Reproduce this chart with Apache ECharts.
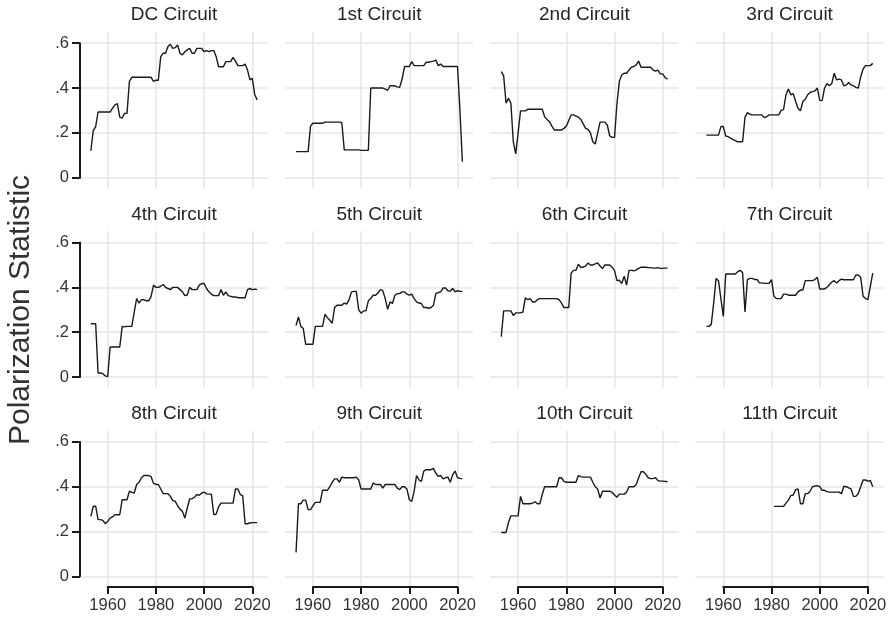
<!DOCTYPE html>
<html><head><meta charset="utf-8">
<script src="https://cdn.jsdelivr.net/npm/echarts@6/dist/echarts.min.js"></script>
<style>html,body{margin:0;padding:0;background:#fff}#c{width:891px;height:620px}</style>
</head><body><div id="c"></div>
<script>
// ---------- data ----------
const firstYear = 1953, lastYear = 2022;
const circuitNames = ['DC Circuit','1st Circuit','2nd Circuit','3rd Circuit','4th Circuit','5th Circuit',
  '6th Circuit','7th Circuit','8th Circuit','9th Circuit','10th Circuit','11th Circuit'];
const yTicks = [0, 0.2, 0.4, 0.6];
const yTickLabels = ['0', '.2', '.4', '.6'];
const xTicks = [1960, 1980, 2000, 2020];
const yAxisTitle = 'Polarization Statistic';

// values by year, 1953..2022
const dc = [.12,.21,.228,.293,.293,.293,.293,.293,.293,.31,
  .325,.33,.27,.266,.287,.287,.43,.448,.448,.448,
  .448,.448,.448,.448,.448,.448,.43,.435,.435,.54,
  .555,.555,.585,.595,.577,.58,.592,.555,.548,.562,
  .57,.577,.555,.555,.577,.577,.577,.562,.567,.562,
  .567,.567,.54,.495,.495,.495,.518,.518,.518,.537,
  .52,.5,.5,.5,.507,.48,.436,.443,.37,.347];
const c1 = [.116,.116,.116,.116,.116,.116,.23,.243,.243,.243,
  .243,.243,.248,.248,.248,.248,.248,.248,.248,.245,
  .124,.124,.124,.124,.124,.124,.124,.122,.122,.122,
  .122,.40,.40,.40,.40,.40,.40,.395,.39,.41,
  .41,.41,.405,.403,.44,.496,.496,.496,.518,.50,
  .50,.50,.50,.50,.515,.515,.518,.52,.525,.50,
  .507,.496,.496,.496,.496,.496,.496,.496,.30,.071];
const c2 = [.473,.454,.332,.354,.332,.16,.106,.2,.298,.298,
  .298,.305,.305,.305,.305,.305,.305,.305,.272,.26,
  .25,.23,.213,.213,.213,.213,.22,.23,.255,.28,
  .28,.275,.27,.26,.24,.22,.215,.2,.16,.15,
  .2,.248,.248,.248,.235,.186,.18,.18,.33,.43,
  .458,.466,.466,.48,.493,.496,.503,.52,.493,.493,
  .493,.493,.493,.48,.475,.48,.463,.463,.446,.44];
const c3 = [.19,.19,.19,.19,.19,.19,.228,.228,.186,.183,
  .176,.17,.165,.16,.16,.16,.27,.29,.283,.28,
  .28,.28,.28,.28,.268,.272,.28,.28,.28,.28,
  .28,.30,.305,.37,.395,.37,.375,.34,.31,.298,
  .34,.35,.37,.38,.384,.387,.40,.345,.344,.40,
  .42,.41,.42,.466,.436,.44,.436,.41,.413,.425,
  .414,.41,.403,.40,.45,.485,.5,.5,.5,.51];
const c4 = [.238,.238,.238,.018,.018,.015,.005,.002,.134,.134,
  .134,.134,.134,.226,.224,.226,.226,.226,.29,.35,
  .33,.345,.345,.34,.34,.36,.41,.40,.40,.405,
  .413,.40,.395,.39,.40,.40,.40,.39,.38,.363,
  .366,.40,.39,.39,.39,.41,.417,.417,.395,.38,
  .37,.363,.363,.363,.39,.365,.38,.363,.36,.357,
  .357,.354,.354,.354,.354,.39,.395,.39,.392,.39];
const c5 = [.23,.268,.226,.216,.146,.146,.146,.146,.226,.226,
  .226,.226,.28,.265,.253,.24,.31,.32,.32,.32,
  .33,.325,.345,.38,.382,.382,.30,.285,.295,.295,
  .34,.35,.365,.365,.375,.39,.385,.35,.302,.335,
  .328,.365,.372,.372,.38,.38,.37,.365,.37,.35,
  .335,.33,.328,.31,.31,.307,.31,.32,.372,.377,
  .38,.397,.397,.385,.384,.395,.38,.385,.382,.382];
const c6 = [.18,.295,.295,.295,.295,.275,.286,.286,.286,.29,
  .354,.345,.35,.335,.335,.345,.35,.35,.35,.35,
  .35,.35,.35,.35,.345,.33,.31,.31,.31,.464,
  .476,.476,.503,.49,.49,.495,.509,.5,.5,.505,
  .509,.495,.484,.5,.5,.5,.49,.475,.43,.432,
  .417,.45,.41,.476,.476,.474,.478,.485,.49,.49,
  .49,.488,.488,.486,.486,.488,.485,.485,.486,.487];
const c7 = [.226,.226,.235,.33,.44,.43,.35,.27,.46,.46,
  .46,.46,.46,.47,.476,.465,.29,.435,.44,.44,
  .435,.435,.42,.42,.418,.418,.418,.435,.36,.35,
  .35,.35,.37,.37,.365,.365,.365,.365,.38,.388,
  .388,.43,.43,.43,.43,.435,.445,.393,.393,.393,
  .40,.412,.424,.43,.42,.43,.437,.434,.434,.434,
  .434,.434,.455,.455,.445,.36,.35,.345,.405,.464];
const c8 = [.268,.313,.313,.253,.253,.25,.235,.245,.26,.265,
  .275,.275,.275,.342,.342,.342,.38,.375,.372,.41,
  .42,.44,.45,.45,.45,.445,.415,.41,.41,.39,
  .369,.369,.369,.357,.338,.335,.315,.30,.29,.26,
  .305,.345,.347,.353,.365,.362,.372,.376,.368,.367,
  .367,.275,.278,.31,.327,.327,.327,.327,.327,.327,
  .39,.39,.365,.36,.235,.235,.238,.24,.24,.24];
const c9 = [.107,.324,.324,.34,.34,.298,.298,.315,.33,.33,
  .33,.384,.384,.384,.40,.42,.435,.435,.42,.443,
  .44,.44,.44,.44,.44,.443,.43,.39,.39,.39,
  .39,.39,.417,.41,.41,.41,.394,.41,.41,.41,
  .41,.41,.394,.387,.40,.40,.39,.342,.335,.38,
  .45,.43,.424,.47,.476,.476,.476,.482,.46,.446,
  .45,.435,.44,.443,.42,.454,.47,.44,.437,.435];
const c10 = [.196,.196,.196,.24,.27,.27,.27,.27,.357,.324,
  .324,.324,.324,.327,.333,.324,.324,.365,.40,.40,
  .40,.40,.40,.40,.44,.44,.424,.42,.42,.42,
  .42,.42,.45,.445,.443,.443,.443,.443,.42,.40,
  .39,.35,.38,.38,.38,.38,.375,.363,.353,.367,
  .367,.367,.375,.40,.40,.40,.41,.44,.467,.467,
  .455,.44,.436,.437,.44,.427,.425,.425,.424,.422];
const c11 = [null,null,null,null,null,null,null,null,null,null,
  null,null,null,null,null,null,null,null,null,null,
  null,null,null,null,null,null,null,null,.3125,.3125,
  .3125,.3125,.3125,.327,.34,.36,.363,.387,.39,.324,
  .324,.369,.369,.38,.40,.403,.405,.40,.384,.384,
  .378,.376,.376,.376,.376,.376,.369,.402,.40,.395,
  .39,.357,.357,.37,.40,.43,.43,.425,.428,.40];
const circuitValues = [dc, c1, c2, c3, c4, c5, c6, c7, c8, c9, c10, c11];

// ---------- layout ----------
const X_MIN = 1948.5, X_MAX = 2026.5, Y_MIN = -0.047, Y_MAX = 0.650;
const W = 188, H = 156.2;
const colLeft = c => 80 + 205.2 * c;
const rowTop = r => 32 + 199.35 * r;
const TEXT = '#333333', INK = '#1a1a1a', GRIDC = '#e6e6e6';
const FONT = 'Liberation Sans, Arial, Helvetica, sans-serif';

const years = [];
for (let y = firstYear; y <= lastYear; y++) years.push(y);

const grid = [], xAxis = [], yAxis = [], series = [], title = [];
circuitNames.forEach((name, i) => {
  const c = i % 4, r = Math.floor(i / 4);
  const L = colLeft(c), T = rowTop(r);
  const px = x => L + (x - X_MIN) / (X_MAX - X_MIN) * W;
  const py = v => T + (Y_MAX - v) / (Y_MAX - Y_MIN) * H;
  const g = grid.length;
  // data grid
  grid.push({left: L, top: T, width: W, height: H, outerBoundsMode: 'none'});
  // horizontal gridlines / y range frame
  const yT = py(yTicks[yTicks.length - 1]), yB = py(yTicks[0]);
  grid.push({left: L, top: yT, width: W, height: yB - yT, outerBoundsMode: 'none'});
  // vertical gridlines / x range frame
  const xL = px(xTicks[0]), xR = px(xTicks[xTicks.length - 1]);
  grid.push({left: xL, top: T, width: xR - xL, height: H, outerBoundsMode: 'none'});

  xAxis.push({type: 'value', gridIndex: g, min: X_MIN, max: X_MAX, show: false});
  yAxis.push({type: 'value', gridIndex: g, min: Y_MIN, max: Y_MAX, show: false});

  const leftCol = c === 0, bottomRow = r === 2;
  xAxis.push({type: 'value', gridIndex: g + 1, min: 0, max: 1, show: false});
  yAxis.push({type: 'value', gridIndex: g + 1, min: yTicks[0], max: yTicks[yTicks.length - 1],
    interval: yTicks[1] - yTicks[0],
    splitLine: {show: true, lineStyle: {color: GRIDC, width: 1.5}},
    axisLine: {show: leftCol, lineStyle: {color: INK, width: 2}},
    axisTick: {show: leftCol, length: 8, lineStyle: {color: INK, width: 2}},
    axisLabel: {show: leftCol, margin: 11, fontSize: 16.5, color: TEXT, fontFamily: FONT,
      formatter: v => { let k = 0; yTicks.forEach((t, j) => { if (Math.abs(t - v) < 1e-6) k = j; }); return yTickLabels[k]; }}
  });
  xAxis.push({type: 'value', gridIndex: g + 2, position: 'bottom',
    min: xTicks[0], max: xTicks[xTicks.length - 1], interval: xTicks[1] - xTicks[0],
    splitLine: {show: true, lineStyle: {color: GRIDC, width: 1.5}},
    axisLine: {show: bottomRow, onZero: false, lineStyle: {color: INK, width: 2}},
    axisTick: {show: bottomRow, length: 7, lineStyle: {color: INK, width: 2}},
    axisLabel: {show: bottomRow, margin: 10, fontSize: 16.5, color: TEXT, fontFamily: FONT,
      formatter: v => String(v)}
  });
  yAxis.push({type: 'value', gridIndex: g + 2, min: 0, max: 1, show: false});

  const vals = circuitValues[i];
  const pts = [];
  years.forEach((y, k) => { if (vals[k] !== null && vals[k] !== undefined) pts.push([y, vals[k]]); });
  series.push({type: 'line', xAxisIndex: g, yAxisIndex: g, data: pts, showSymbol: false,
    symbol: 'none', lineStyle: {color: INK, width: 1.4}, z: 5, silent: true});

  title.push({text: name, left: L + W / 2, top: 5.5 + 199.35 * r, textAlign: 'center', padding: 0,
    textStyle: {fontSize: 19, fontWeight: 'normal', color: '#262626', fontFamily: FONT}});
});

const chart = echarts.init(document.getElementById('c'), null, {renderer: 'canvas'});
chart.setOption({
  animation: false,
  backgroundColor: '#ffffff',
  title, grid, xAxis, yAxis, series,
  graphic: [{type: 'text', x: 21, y: 310, rotation: Math.PI / 2,
    style: {text: yAxisTitle, fontSize: 30, fontFamily: FONT, fill: TEXT,
      textAlign: 'center', textVerticalAlign: 'middle'}}]
});
</script>
</body></html>
